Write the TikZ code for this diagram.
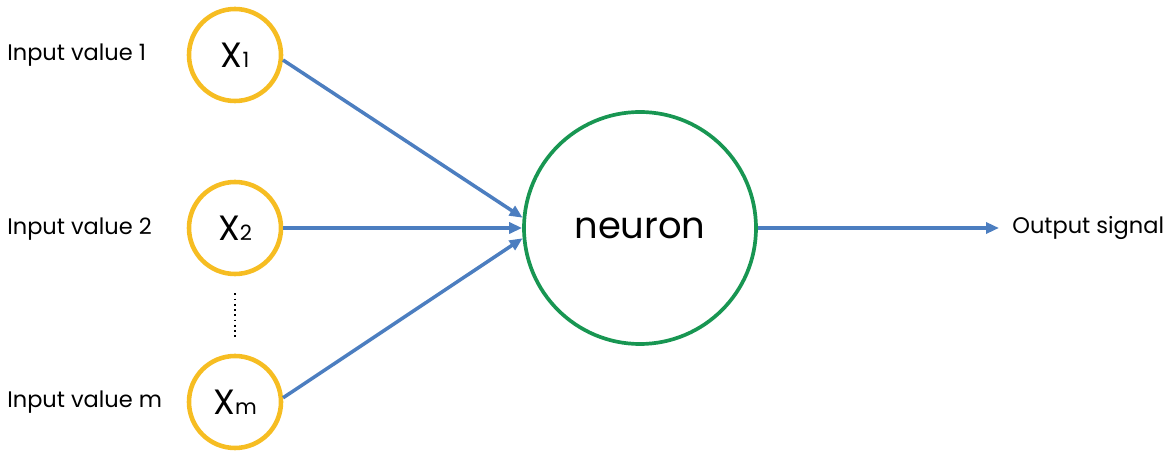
\documentclass[tikz,border=0pt]{standalone}
\usepackage{fontspec}
\setmainfont{Poppins}
\usetikzlibrary{arrows.meta, shapes, positioning}

\definecolor{inyellow}{RGB}{246,189,34}
\definecolor{neugreen}{RGB}{24,150,82}
\definecolor{edgeblue}{RGB}{76,126,192}

\tikzset{
	inputnode/.style={circle, draw=inyellow, line width=2.6pt, minimum size=1.84cm, inner sep=0pt, text centered, font=\fontsize{20}{20}\selectfont},
	neuronnode/.style={circle, draw=neugreen, line width=2.1pt, minimum size=4.64cm, inner sep=0pt, text centered, font=\fontsize{21}{21}\selectfont},
	lbl/.style={anchor=west, inner sep=0pt, font=\fontsize{12.8}{12.8}\selectfont},
	edge/.style={draw=edgeblue, line width=2pt, -{Triangle[length=0.26cm, width=0.22cm]}},
}
\newcommand{\sub}[1]{{\fontsize{12}{12}\selectfont #1}}

\begin{document}
\begin{tikzpicture}
	     \useasboundingbox (0,0) rectangle (23.46,9.44);
	     % nodes %
		 \node[inputnode] (x1) at (4.70,8.34) {X\sub{1}};
		 \node[inputnode] (x2) at (4.70,4.88) {X\sub{2}};
		 \node[inputnode] (xm) at (4.70,1.40) {X\sub{m}};
		 \node[neuronnode] (n) at (12.80,4.88) {neuron};
		 \node[lbl] (l1) at (0.14,8.34) {Input value 1};
		 \node[lbl] (l2) at (0.14,4.86) {Input value 2};
		 \node[lbl] (lm) at (0.14,1.40) {Input value m};
		 \node[lbl] (out) at (20.24,4.88) {Output signal};
		 \coordinate (outend) at (19.98,4.88);

		 % edges %
		 \draw[edge] (x1.-6) -- (n.175);
		 \draw[edge] (x2.east) -- (n.west);
		 \draw[edge] (xm.5) -- (n.185);
		 \draw[edge] (n.east) -- (outend);
		 \draw[dotted, line width=1pt] ([yshift=-0.34cm]x2.south) -- ([yshift=0.34cm]xm.north);
	     \end{tikzpicture}
\end{document}
